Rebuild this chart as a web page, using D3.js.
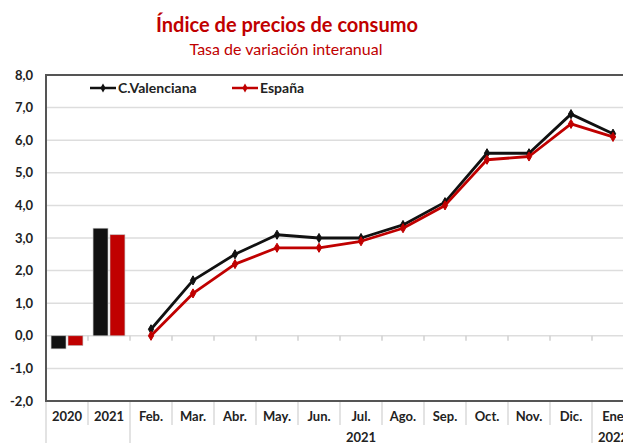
<!DOCTYPE html>
<html>
<head>
<meta charset="utf-8">
<script src="https://cdn.jsdelivr.net/npm/d3@7"></script>
<style>
  body { margin: 0; background: #fff; }
  svg { display: block; font-family: Lato, "Open Sans", sans-serif; }
</style>
</head>
<body>
<div id="chart"></div>
<script>
// categories on the x axis
const categories = ['2020', '2021', 'Feb.', 'Mar.', 'Abr.', 'May.', 'Jun.', 'Jul.', 'Ago.', 'Sep.', 'Oct.', 'Nov.', 'Dic.', 'Ene'];
const yearLabels = [
    { label: '2021', from: 'Feb.', to: 'Dic.' },
    { label: '2022', from: 'Ene', to: 'Ene' }
];

// annual averages (bars)
const barYears = ['2020', '2021'];
const barValencia = [-0.4, 3.3];
const barEspana = [-0.3, 3.1];

// monthly year-on-year rates (lines)
const months = ['Feb.', 'Mar.', 'Abr.', 'May.', 'Jun.', 'Jul.', 'Ago.', 'Sep.', 'Oct.', 'Nov.', 'Dic.', 'Ene'];
const lineValencia = [0.2, 1.7, 2.5, 3.1, 3.0, 3.0, 3.4, 4.1, 5.6, 5.6, 6.8, 6.2];
const lineEspana = [0.0, 1.3, 2.2, 2.7, 2.7, 2.9, 3.3, 4.0, 5.4, 5.5, 6.5, 6.1];

const yTicks = [-2, -1, 0, 1, 2, 3, 4, 5, 6, 7, 8];

const series = [
    { name: 'C.Valenciana', color: '#111111', bars: barValencia, line: lineValencia },
    { name: 'España', color: '#c00000', bars: barEspana, line: lineEspana }
];

const width = 623, height = 443;
const fmt = d => d.toFixed(1).replace('.', ',');

const svg = d3.select('#chart')
    .append('svg')
    .attr('width', width)
    .attr('height', height);

// scales
const x = d3.scaleBand()
    .domain(categories)
    .range([46, 634])
    .padding(0);

const xInner = d3.scaleBand()
    .domain(series.map(s => s.name))
    .range([0, x.bandwidth()])
    .paddingInner(0.12)
    .paddingOuter(0.3);

const y = d3.scaleLinear()
    .domain([-2, 8])
    .range([401, 75]);

// title
svg.append('text')
    .attr('x', 287).attr('y', 32)
    .attr('text-anchor', 'middle')
    .attr('font-size', 20).attr('font-weight', 'bold')
    .attr('fill', '#c00000')
    .text('Índice de precios de consumo');

svg.append('text')
    .attr('x', 286).attr('y', 55)
    .attr('text-anchor', 'middle')
    .attr('font-size', 16)
    .attr('fill', '#c00000')
    .text('Tasa de variación interanual');

// gridlines
svg.append('g')
    .selectAll('line')
    .data(yTicks.filter(d => d > -2 && d < 8))
    .join('line')
    .attr('x1', 46).attr('x2', width)
    .attr('y1', d => y(d)).attr('y2', d => y(d))
    .attr('stroke', '#dddddd')
    .attr('stroke-width', 1.5);

// y axis labels
const yAxis = svg.append('g')
    .attr('transform', 'translate(33,0)')
    .call(d3.axisLeft(y).tickValues(yTicks).tickFormat(fmt).tickSize(0).tickPadding(0));
yAxis.select('.domain').remove();
yAxis.selectAll('text')
    .attr('font-family', 'Lato, sans-serif')
    .attr('font-size', 13)
    .attr('font-weight', 'bold')
    .attr('fill', '#222');

// small ticks under the zero line
svg.append('g')
    .selectAll('line')
    .data(categories.slice(1))
    .join('line')
    .attr('x1', d => x(d)).attr('x2', d => x(d))
    .attr('y1', y(0)).attr('y2', y(0) + 5)
    .attr('stroke', '#d0d0d0')
    .attr('stroke-width', 1.5);

// bars
const barGroups = svg.append('g')
    .selectAll('g')
    .data(barYears)
    .join('g')
    .attr('transform', d => `translate(${x(d)},0)`);

barGroups.selectAll('rect')
    .data((d, i) => series.map(s => ({ name: s.name, color: s.color, value: s.bars[i] })))
    .join('rect')
    .attr('x', d => xInner(d.name))
    .attr('width', xInner.bandwidth())
    .attr('y', d => y(Math.max(0, d.value)))
    .attr('height', d => Math.abs(y(d.value) - y(0)))
    .attr('fill', d => d.color)
    .attr('stroke', '#bbbbbb')
    .attr('stroke-width', 0.6);

// lines
const line = d3.line()
    .x((d, i) => x(months[i]) + x.bandwidth() / 2)
    .y(d => y(d));

const diamond = d3.symbol().type(d3.symbolDiamond).size(24);

series.forEach(s => {
    svg.append('path')
        .datum(s.line)
        .attr('d', line)
        .attr('fill', 'none')
        .attr('stroke', s.color)
        .attr('stroke-width', 2.8)
        .attr('stroke-linejoin', 'round');

    svg.append('g')
        .selectAll('path')
        .data(s.line)
        .join('path')
        .attr('d', diamond)
        .attr('transform', (d, i) => `translate(${x(months[i]) + x.bandwidth() / 2},${y(d)})`)
        .attr('fill', s.color)
        .attr('stroke', s.color)
        .attr('stroke-width', 1);
});

// plot frame: left, top and bottom
svg.append('line')
    .attr('x1', 46).attr('x2', width)
    .attr('y1', 75).attr('y2', 75)
    .attr('stroke', '#555').attr('stroke-width', 2);
svg.append('line')
    .attr('x1', 46).attr('x2', width)
    .attr('y1', 401).attr('y2', 401)
    .attr('stroke', '#555').attr('stroke-width', 2);
svg.append('line')
    .attr('x1', 46).attr('x2', 46)
    .attr('y1', 74).attr('y2', 402)
    .attr('stroke', '#555').attr('stroke-width', 2);

// category axis below the plot
const catAxis = svg.append('g');
catAxis.selectAll('line')
    .data(categories.slice(1))
    .join('line')
    .attr('x1', d => x(d)).attr('x2', d => x(d))
    .attr('y1', 402)
    .attr('y2', d => (d === 'Feb.' || d === 'Ene') ? height : 425)
    .attr('stroke', '#d0d0d0')
    .attr('stroke-width', 1.2);
catAxis.append('line')
    .attr('x1', 46).attr('x2', 46)
    .attr('y1', 402).attr('y2', height)
    .attr('stroke', '#d0d0d0')
    .attr('stroke-width', 1.2);

catAxis.selectAll('text.cat')
    .data(categories)
    .join('text')
    .attr('class', 'cat')
    .attr('x', d => x(d) + x.bandwidth() / 2)
    .attr('y', 421)
    .attr('text-anchor', 'middle')
    .attr('font-size', 13)
    .attr('font-weight', 'bold')
    .attr('fill', '#222')
    .text(d => d);

catAxis.selectAll('text.year')
    .data(yearLabels)
    .join('text')
    .attr('class', 'year')
    .attr('x', d => (x(d.from) + x(d.to) + x.bandwidth()) / 2)
    .attr('y', 442)
    .attr('text-anchor', 'middle')
    .attr('font-size', 13)
    .attr('font-weight', 'bold')
    .attr('fill', '#222')
    .text(d => d.label);

// legend
const legend = svg.append('g')
    .selectAll('g')
    .data(series)
    .join('g')
    .attr('transform', (d, i) => `translate(${90 + i * 142},88)`);

legend.append('line')
    .attr('x1', 0).attr('x2', 26)
    .attr('stroke', d => d.color)
    .attr('stroke-width', 2.5);
legend.append('path')
    .attr('d', diamond)
    .attr('transform', 'translate(13,0)')
    .attr('fill', d => d.color);
legend.append('text')
    .attr('x', 28).attr('y', 5)
    .attr('font-size', 14)
    .attr('font-weight', 'bold')
    .attr('fill', '#222')
    .text(d => d.name);
</script>
</body>
</html>
